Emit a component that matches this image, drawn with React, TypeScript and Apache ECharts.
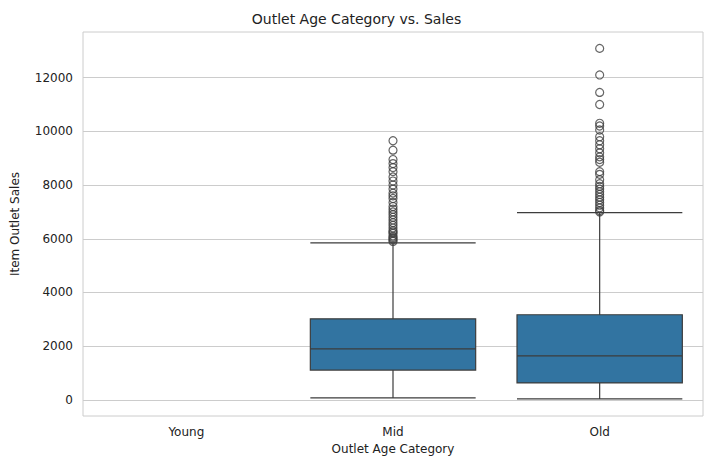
import React, { useEffect, useRef } from 'react';
import * as echarts from 'echarts';

const categories = ['Young', 'Mid', 'Old'];
// [min whisker, Q1, median, Q3, max whisker]
const boxValues: (number[] | string)[] = ['-', [75, 1110, 1900, 3020, 5850], [35, 630, 1640, 3170, 6970]];
const midOutliers = [9650, 9300, 8950, 8800, 8650, 8500, 8300, 8150, 8000, 7850, 7700, 7600, 7500, 7350, 7200, 7100, 7000, 6900, 6800, 6700, 6600, 6500, 6400, 6300, 6250, 6200, 6100, 6050, 6000, 5950, 5900];
const oldOutliers = [13090, 12100, 11450, 11000, 10300, 10200, 10050, 9800, 9650, 9500, 9350, 9200, 9050, 8950, 8850, 8500, 8400, 8200, 8050, 7950, 7850, 7750, 7650, 7550, 7450, 7350, 7250, 7150, 7050, 7000];
const gridValues = [0, 2000, 4000, 6000, 8000, 10000, 12000];

const App: React.FC = () => {
  const chartRef = useRef<HTMLDivElement>(null);

  useEffect(() => {
    if (!chartRef.current) return;
    const chart = echarts.init(chartRef.current, undefined, { renderer: 'svg' });
    const font = 'DejaVu Sans';
    const outliers = [
      ...midOutliers.map((v) => [1, v]),
      ...oldOutliers.map((v) => [2, v]),
    ];

    chart.setOption({
      animation: false,
      textStyle: { fontFamily: font },
      title: {
        text: 'Outlet Age Category vs. Sales',
        left: 'center',
        top: 7,
        textStyle: { fontSize: 14, fontWeight: 'normal', color: '#222', fontFamily: font },
      },
      grid: { left: 83, right: 10, top: 32, bottom: 54, show: true, borderColor: '#cccccc', borderWidth: 1 },
      xAxis: {
        type: 'category',
        data: categories,
        name: 'Outlet Age Category',
        nameLocation: 'middle',
        nameGap: 27,
        nameTextStyle: { fontSize: 12, color: '#222' },
        axisLine: { show: false },
        axisTick: { show: false },
        axisLabel: { fontSize: 12, color: '#222', margin: 10 },
      },
      yAxis: {
        type: 'value',
        min: -600,
        max: 13700,
        interval: 200,
        name: 'Item Outlet Sales',
        nameLocation: 'middle',
        nameGap: 62,
        nameTextStyle: { fontSize: 12, color: '#222' },
        axisLine: { show: false },
        axisTick: { show: false },
        splitLine: { show: false },
        axisLabel: {
          fontSize: 12,
          color: '#222',
          margin: 10,
          formatter: (v: number) => (v >= 0 && v % 2000 === 0 ? String(v) : ''),
        },
      },
      series: [
        {
          type: 'boxplot',
          data: boxValues,
          boxWidth: ['80%', '80%'],
          itemStyle: { color: '#3274a1', borderColor: '#3d3d3d', borderWidth: 1.2 },
          markLine: {
            silent: true,
            symbol: 'none',
            label: { show: false },
            lineStyle: { color: '#cccccc', type: 'solid', width: 1 },
            data: gridValues.map((v) => ({ yAxis: v })),
            z: -1,
          },
          z: 3,
        },
        {
          type: 'scatter',
          data: outliers,
          symbol: 'circle',
          symbolSize: 8,
          itemStyle: { color: 'rgba(0,0,0,0)', borderColor: '#3d3d3d', borderWidth: 1.2 },
          z: 4,
        },
      ],
    });

    return () => chart.dispose();
  }, []);

  return <div ref={chartRef} style={{ width: 713, height: 470, position: 'absolute', left: 0, top: 0 }} />;
};

export default App;
